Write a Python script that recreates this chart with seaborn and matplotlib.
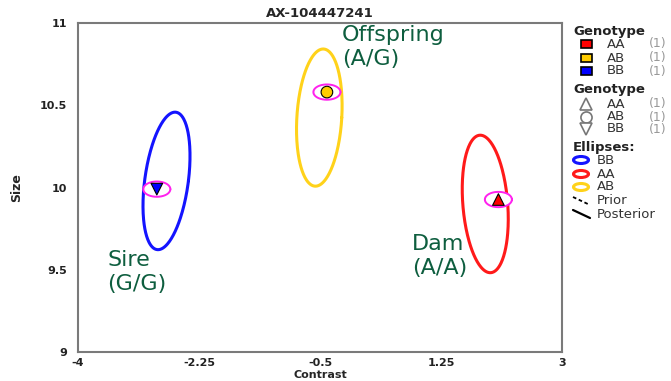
import numpy as np
import pandas as pd
import matplotlib
matplotlib.use("Agg")
import matplotlib.pyplot as plt
import seaborn as sns
from matplotlib.patches import Ellipse

# ---- data ----
samples = ["Sire", "Offspring", "Dam"]
sample_labels = ["Sire\n(G/G)", "Offspring\n(A/G)", "Dam\n(A/A)"]
genotypes = ["BB", "AB", "AA"]
contrast = [-2.86, -0.40, 2.08]
size = [9.99, 10.58, 9.927]

# cluster ellipse parameters (centre x, centre y, x half-width, y half-height, tilt shift)
ell_cx = [-2.72, -0.51, 1.89]
ell_cy = [10.04, 10.425, 9.90]
ell_wx = [0.317, 0.325, 0.325]
ell_hy = [0.418, 0.417, 0.418]
ell_dx = [0.123, 0.056, -0.072]

geno_colors = {"AA": "#ff0000", "AB": "#ffcc00", "BB": "#0000ff"}
geno_markers = {"AA": "^", "AB": "o", "BB": "v"}
ell_colors = {"BB": "#1414ff", "AA": "#ff1a1a", "AB": "#ffd21a"}

df = pd.DataFrame({"Contrast": contrast, "Size": size, "Genotype": genotypes})

sns.set_style("white")
fig = plt.figure(figsize=(6.71, 3.81), dpi=100)
ax = fig.add_axes([78/671, 1-352/381, (562-78)/671, (352-23)/381])

t = np.linspace(0, 2*np.pi, 300)
for g, cx, cy, wx, hy, dx in zip(genotypes, ell_cx, ell_cy, ell_wx, ell_hy, ell_dx):
    ax.plot(cx + wx*np.cos(t) + dx*np.sin(t), cy + hy*np.sin(t),
            color=ell_colors[g], lw=2.2, zorder=2)

# posterior ellipses around points
for x, y in zip(contrast, size):
    ax.plot(x + 0.19*np.cos(t), y + 0.044*np.sin(t), color="#ff22ee", lw=2.0, zorder=3)
    ax.fill(x + 0.17*np.cos(t), y + 0.036*np.sin(t), color="white", zorder=3)

sns.scatterplot(data=df, x="Contrast", y="Size", hue="Genotype", style="Genotype",
                palette=geno_colors, markers=geno_markers, s=70, edgecolor="black",
                linewidth=0.8, legend=False, ax=ax, zorder=4)

label_pos = [(-3.58, 9.622), (-0.18, 10.988), (0.83, 9.72)]
for (lx, ly), txt in zip(label_pos, sample_labels):
    ax.text(lx, ly, txt, color="#0e5e3f", fontsize=16, va="top", ha="left",
            linespacing=1.28, zorder=5)

ax.set_xlim(-4, 3)
ax.set_ylim(9, 11)
ax.set_xticks([-4, -2.25, -0.5, 1.25, 3])
ax.set_xticklabels(["-4", "-2.25", "-0.5", "1.25", "3"])
ax.set_yticks([9, 9.5, 10, 10.5, 11])
ax.set_yticklabels(["9", "9.5", "10", "10.5", "11"])
ax.tick_params(direction="in", length=4, width=1, colors="#555555", labelsize=8,
               labelcolor="#222222")
for lab in ax.get_xticklabels() + ax.get_yticklabels():
    lab.set_fontweight("bold")
ax.tick_params(axis="y", pad=8)
ax.tick_params(axis="x", pad=4)
for sp in ax.spines.values():
    sp.set_color("#7a7a7a")
    sp.set_linewidth(1.5)
ax.set_xlabel("Contrast", fontsize=8, fontweight="bold")
ax.set_ylabel("Size", fontsize=9, fontweight="bold")
ax.xaxis.set_label_coords(0.5, (352-370)/329)
ax.yaxis.set_label_coords((23-78)/484, 0.5)
ax.set_title("AX-104447241", fontsize=9.5, fontweight="bold", pad=4)

# ---- legend panel (pixel coordinates) ----
lg = fig.add_axes([0, 0, 1, 1], zorder=10)
lg.set_xlim(0, 671)
lg.set_ylim(381, 0)
lg.axis("off")
lg.patch.set_alpha(0)

def hdr(y, s):
    lg.text(573, y, s, fontsize=9.5, fontweight="bold", va="center", ha="left", color="#222222")

def row(y, s, x=607, cnt=True):
    lg.text(x, y, s, fontsize=9.5, va="center", ha="left", color="#333333")
    if cnt:
        lg.text(649, y, "(1)", fontsize=9, va="center", ha="left", color="#999999")

hdr(31, "Genotype")
for y, g in zip([44, 58, 71], ["AA", "AB", "BB"]):
    lg.add_patch(plt.Rectangle((581, y-4), 11, 8, facecolor=geno_colors[g],
                               edgecolor="black", lw=1.2))
    row(y, g)
hdr(89, "Genotype")
for y, g, m in zip([104, 117, 129], ["AA", "AB", "BB"], ["^", "o", "v"]):
    lg.plot(586, y, marker=m, ms=8, mfc="white", mec="#777777", mew=1.2)
    row(y, g)
hdr(147, "Ellipses:")
for y, g in zip([160, 174, 187], ["BB", "AA", "AB"]):
    lg.add_patch(Ellipse((581, y), 15, 7, facecolor="none", edgecolor=ell_colors[g], lw=2.2))
    row(y, g, x=597, cnt=False)
lg.plot([573, 590], [197, 205], color="black", lw=1.3, ls=(0, (2, 1.5)))
row(201, "Prior", x=597, cnt=False)
lg.plot([573, 590], [210, 218], color="black", lw=1.6)
row(214, "Posterior", x=597, cnt=False)

fig.savefig("out.png", dpi=100)
